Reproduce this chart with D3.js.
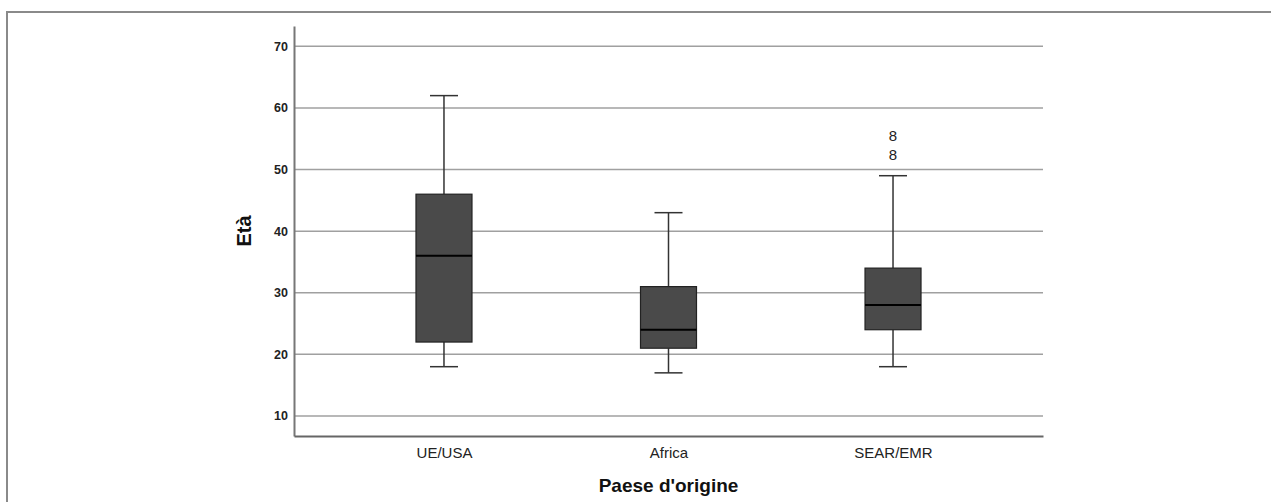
<!DOCTYPE html>
<html>
<head>
<meta charset="utf-8">
<script src="https://cdn.jsdelivr.net/npm/d3@7"></script>
<style>
  body { margin: 0; background: #fff; }
  svg { display: block; font-family: "Liberation Sans", Arial, sans-serif; }
</style>
</head>
<body>
<svg></svg>
<script>
var width = 1271, height = 502;

// dati
var categories = ["UE/USA", "Africa", "SEAR/EMR"];
var whiskerLow = [18, 17, 18];
var q1 = [22, 21, 24];
var median = [36, 24, 28];
var q3 = [46, 31, 34];
var whiskerHigh = [62, 43, 49];
var outlierGroup = ["SEAR/EMR", "SEAR/EMR"];
var outlierValue = [52.5, 55.5];
var outlierLabel = ["8", "8"];
var yTicks = [10, 20, 30, 40, 50, 60, 70];

var svg = d3.select("svg").attr("width", width).attr("height", height);

// cornice
svg.append("rect")
  .attr("x", 7).attr("y", 12)
  .attr("width", width).attr("height", height)
  .attr("fill", "none")
  .attr("stroke", "#8a8a8a")
  .attr("stroke-width", 2);

var plotL = 294, plotR = 1043, plotT = 26, plotB = 436;

var y = d3.scaleLinear().domain([6.75, 73.3]).range([plotB, plotT]);
var x = d3.scalePoint().domain(categories).range([plotL, plotR]).padding(0.668);

// griglia
svg.append("g")
  .selectAll("line")
  .data(yTicks)
  .enter().append("line")
  .attr("x1", plotL).attr("x2", plotR)
  .attr("y1", function(d) { return y(d); })
  .attr("y2", function(d) { return y(d); })
  .attr("stroke", "#a0a0a0")
  .attr("stroke-width", 1.5);

// asse y
var yAxis = svg.append("g")
  .attr("transform", "translate(" + plotL + ",0)")
  .call(d3.axisLeft(y).tickValues(yTicks).tickSize(0).tickPadding(6));
yAxis.select(".domain").attr("stroke", "#777").attr("stroke-width", 2);
yAxis.selectAll("text")
  .attr("font-size", 12.5)
  .attr("font-weight", "bold")
  .attr("fill", "#222")
  .attr("font-family", "Liberation Sans, Arial, sans-serif");

// asse x
var xAxis = svg.append("g")
  .attr("transform", "translate(0," + plotB + ")")
  .call(d3.axisBottom(x).tickSize(0).tickPadding(11));
xAxis.select(".domain").attr("stroke", "#666").attr("stroke-width", 2);
xAxis.selectAll("text")
  .attr("font-size", 15)
  .attr("fill", "#222")
  .attr("font-family", "Liberation Sans, Arial, sans-serif");

var boxW = 56, capW = 28;
var rows = categories.map(function(c, i) {
  return { cat: c, lo: whiskerLow[i], q1: q1[i], med: median[i], q3: q3[i], hi: whiskerHigh[i] };
});

var g = svg.append("g").selectAll("g")
  .data(rows)
  .enter().append("g")
  .attr("transform", function(d) { return "translate(" + x(d.cat) + ",0)"; });

// baffi
g.append("line")
  .attr("x1", 0).attr("x2", 0)
  .attr("y1", function(d) { return y(d.q3); })
  .attr("y2", function(d) { return y(d.hi); })
  .attr("stroke", "#333").attr("stroke-width", 1.5);
g.append("line")
  .attr("x1", 0).attr("x2", 0)
  .attr("y1", function(d) { return y(d.q1); })
  .attr("y2", function(d) { return y(d.lo); })
  .attr("stroke", "#333").attr("stroke-width", 1.5);
g.append("line")
  .attr("x1", -capW / 2).attr("x2", capW / 2)
  .attr("y1", function(d) { return y(d.hi); })
  .attr("y2", function(d) { return y(d.hi); })
  .attr("stroke", "#333").attr("stroke-width", 1.5);
g.append("line")
  .attr("x1", -capW / 2).attr("x2", capW / 2)
  .attr("y1", function(d) { return y(d.lo); })
  .attr("y2", function(d) { return y(d.lo); })
  .attr("stroke", "#333").attr("stroke-width", 1.5);

// scatole
g.append("rect")
  .attr("x", -boxW / 2).attr("width", boxW)
  .attr("y", function(d) { return y(d.q3); })
  .attr("height", function(d) { return y(d.q1) - y(d.q3); })
  .attr("fill", "#4a4a4a")
  .attr("stroke", "#222")
  .attr("stroke-width", 1.2);

// mediana
g.append("line")
  .attr("x1", -boxW / 2).attr("x2", boxW / 2)
  .attr("y1", function(d) { return y(d.med); })
  .attr("y2", function(d) { return y(d.med); })
  .attr("stroke", "#000").attr("stroke-width", 2);

// valori anomali (etichette dei casi)
svg.append("g").selectAll("text")
  .data(outlierValue)
  .enter().append("text")
  .attr("x", function(d, i) { return x(outlierGroup[i]); })
  .attr("y", function(d) { return y(d); })
  .attr("dy", "0.36em")
  .attr("text-anchor", "middle")
  .attr("font-size", 15)
  .attr("fill", "#222")
  .text(function(d, i) { return outlierLabel[i]; });

// titoli assi
svg.append("text")
  .attr("transform", "translate(251," + ((plotT + plotB) / 2) + ") rotate(-90)")
  .attr("text-anchor", "middle")
  .attr("font-size", 20)
  .attr("font-weight", "bold")
  .attr("fill", "#111")
  .text("Età");

svg.append("text")
  .attr("x", (plotL + plotR) / 2)
  .attr("y", 492)
  .attr("text-anchor", "middle")
  .attr("font-size", 19)
  .attr("font-weight", "bold")
  .attr("fill", "#111")
  .text("Paese d'origine");
</script>
</body>
</html>
